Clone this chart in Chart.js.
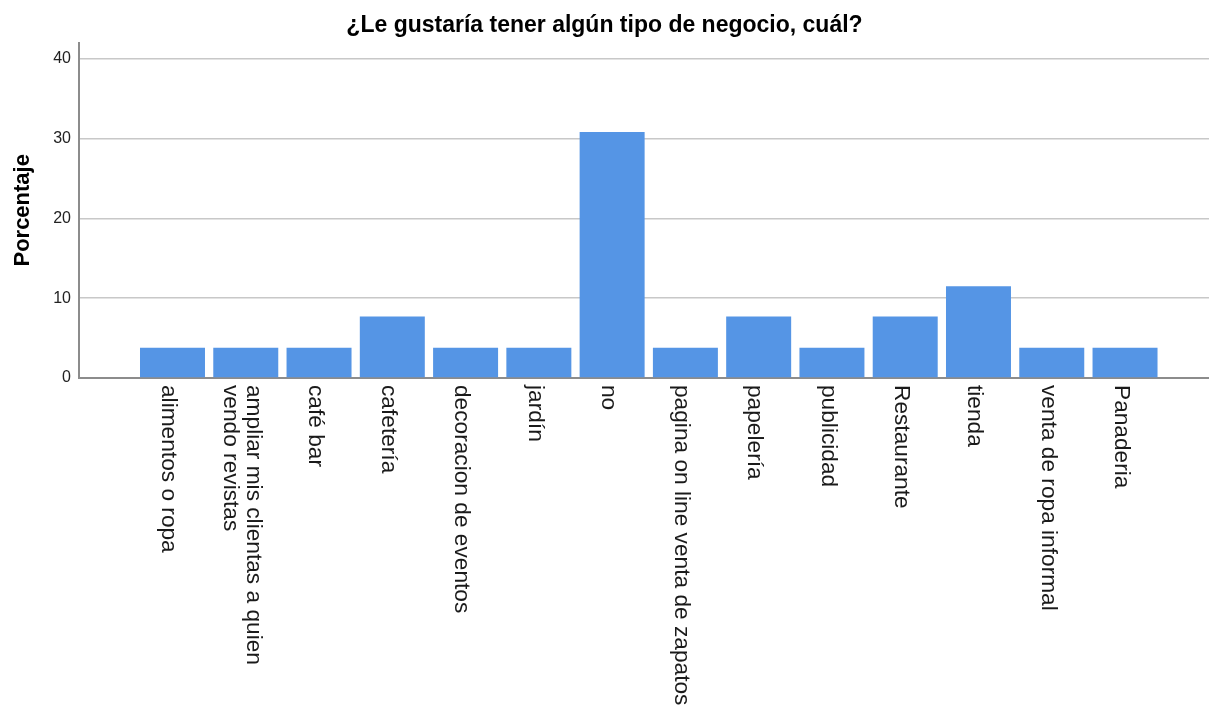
<!DOCTYPE html>
<html><head><meta charset="utf-8">
<script src="https://cdn.jsdelivr.net/npm/chart.js@4.4.1/dist/chart.umd.min.js"></script>
<style>html,body{margin:0;padding:0;background:#fff;}#wrap{width:1209px;height:707px;}</style>
</head><body><div id="wrap"><canvas id="c" width="1209" height="707"></canvas></div>
<script>
const chartTitle = '¿Le gustaría tener algún tipo de negocio, cuál?';
const yAxisTitle = 'Porcentaje';
const categories = [
  'alimentos o ropa',
  ['ampliar mis clientas a quien', 'vendo revistas'],
  'café bar',
  'cafetería',
  'decoracion de eventos',
  'jardín',
  'no',
  'pagina on line venta de zapatos',
  'papelería',
  'publicidad',
  'Restaurante',
  'tienda',
  'venta de ropa informal',
  'Panaderia'
];
const percentages = [3.8, 3.8, 3.8, 7.7, 3.8, 3.8, 30.8, 3.8, 7.7, 3.8, 7.7, 11.5, 3.8, 3.8];
const yTicks = [0, 10, 20, 30, 40];

const FAMILY = '"Liberation Sans", Arial, Helvetica, sans-serif';
Chart.defaults.font.family = FAMILY;

const xLabelPlugin = {
  id: 'xLabels',
  afterDraw(chart) {
    const ctx = chart.ctx, xs = chart.scales.x;
    const top = chart.chartArea.bottom + 7;
    ctx.save();
    ctx.font = '22.7px ' + FAMILY;
    ctx.fillStyle = '#1a1a1a';
    ctx.textAlign = 'left';
    ctx.textBaseline = 'middle';
    categories.forEach((lab, i) => {
      const lines = Array.isArray(lab) ? lab : [lab];
      const x = xs.getPixelForValue(i) - 4;
      const lh = 23;
      ctx.save();
      ctx.translate(x, top);
      ctx.rotate(Math.PI / 2);
      lines.forEach((ln, j) => ctx.fillText(ln, 0, (j - (lines.length - 1) / 2) * lh));
      ctx.restore();
    });
    ctx.restore();
  }
};

new Chart(document.getElementById('c'), {
  type: 'bar',
  data: {
    datasets: [{
      data: percentages.map((v, i) => ({ x: i, y: v })),
      backgroundColor: '#5595e5',
      borderWidth: 0,
      categoryPercentage: 0.887,
      barPercentage: 1
    }]
  },
  options: {
    responsive: false,
    animation: false,
    layout: { padding: { left: 0, right: 0, top: 0, bottom: 329 } },
    plugins: {
      legend: { display: false },
      tooltip: { enabled: false },
      title: {
        display: true, text: chartTitle, color: '#000',
        font: { size: 23, weight: 'bold' },
        padding: { top: 12, bottom: 3 }
      }
    },
    scales: {
      x: {
        type: 'linear', min: -1.276, max: 14.146, offset: false,
        ticks: { display: false },
        grid: { display: false, drawTicks: false },
        border: { color: '#8c8c8c', width: 2 },
        afterFit: s => { s.height = 0; }
      },
      y: {
        min: 0, max: 42,
        afterBuildTicks: s => { s.ticks = yTicks.map(v => ({ value: v })); },
        ticks: { font: { size: 16 }, color: '#222', padding: 8 },
        grid: { color: '#c8c8c8', lineWidth: 1.5, drawTicks: false },
        border: { color: '#8c8c8c', width: 2 },
        title: { display: true, text: yAxisTitle, color: '#000', font: { size: 22, weight: 'bold' }, padding: { top: 10, bottom: 0 } },
        afterFit: s => { s.width = 79; }
      }
    }
  },
  plugins: [xLabelPlugin]
});
</script></body></html>
